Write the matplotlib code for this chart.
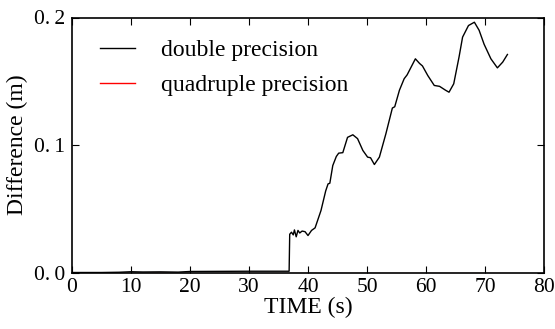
import matplotlib
matplotlib.use("Agg")
import matplotlib.pyplot as plt
import numpy as np

plt.rcParams['font.family'] = ['Liberation Serif', 'DejaVu Serif']
plt.rcParams['mathtext.fontset'] = 'stix'

# double precision difference
t_double = [0, 5, 8, 10, 12, 15, 18, 20, 25, 30, 35, 36.8, 36.9, 37.2, 37.5, 37.7, 38.0, 38.3, 38.6,
            39.0, 39.5, 40.0, 40.6, 41.2, 42.2, 43.0, 43.4, 43.7, 44.2, 44.8, 45.2, 45.9,
            46.7, 47.6, 48.4, 49.3, 50.1, 50.6, 51.25, 52.1, 53.2, 54.3, 54.7, 55.5,
            56.3, 56.8, 58.2, 58.9, 59.4, 60.3, 61.4, 62.3, 63.3, 63.9, 64.7, 65.6,
            66.2, 67.2, 68.2, 69.0, 69.85, 71.0, 72.1, 73.0, 73.8]
d_double = [0.0, 0.0, 0.0002, 0.0006, 0.0004, 0.0005, 0.0003, 0.0008, 0.0009, 0.0010, 0.0010, 0.0010,
            0.030, 0.0316, 0.0295, 0.0334, 0.0280, 0.0330, 0.0310,
            0.0325, 0.0320, 0.0290, 0.0330, 0.0350, 0.0486, 0.0640, 0.0695, 0.0700, 0.0839,
            0.0910, 0.0936, 0.0940, 0.1060, 0.1080, 0.1050, 0.0957, 0.0905, 0.0900,
            0.0847, 0.0905, 0.1088, 0.1290, 0.1300, 0.1430, 0.1520, 0.1550, 0.1676,
            0.1640, 0.1620, 0.1545, 0.1467, 0.1460, 0.1430, 0.1414, 0.1480, 0.1690,
            0.1846, 0.1937, 0.1963, 0.1900, 0.1790, 0.1676, 0.1605, 0.1650, 0.1710]

# quadruple precision difference
t_quad = [0, 10, 20, 30, 37, 40, 50, 60, 70, 74]
d_quad = [0.0, 0.0, 0.0, 0.0, 0.0, 0.0, 0.0, 0.0, 0.0, 0.0]

x_ticks = [0, 10, 20, 30, 40, 50, 60, 70, 80]
y_ticks = [0.0, 0.1, 0.2]
y_ticklabels = ['0.\u20090', '0.\u20091', '0.\u20092']

fig = plt.figure(figsize=(5.55, 3.29), dpi=100)
ax = fig.add_axes([72/555, 1-272.5/329, (544-72)/555, (272.5-17.5)/329])

ax.plot(t_quad, d_quad, color='#c00000', lw=0.8, label='quadruple precision', zorder=1)
ax.plot(t_double, d_double, color='black', lw=1.0, label='double precision', zorder=3)

ax.set_xlim(0, 80)
ax.set_ylim(0, 0.2)
ax.set_xticks(x_ticks)
ax.set_yticks(y_ticks)
ax.set_yticklabels(y_ticklabels)
ax.tick_params(direction='in', top=True, right=True, length=5, width=0.8, labelsize=15.5)
ax.tick_params(axis='x', pad=4)
ax.tick_params(axis='y', pad=5)
for s in ax.spines.values():
    s.set_linewidth(1.2)
    s.set_zorder(2.5)

ax.set_xlabel('TIME (s)', fontsize=17, labelpad=0)
ax.set_ylabel('Difference (m)', fontsize=17, labelpad=4)

h, l = ax.get_legend_handles_labels()
leg = ax.legend(h[::-1], l[::-1], loc='upper left', frameon=False, fontsize=17,
                bbox_to_anchor=(0.0136, 0.996), handlelength=1.5, handletextpad=1.1, labelspacing=0.55)
for line in leg.get_lines():
    line.set_linewidth(1.0)
leg.get_lines()[1].set_color('red')

fig.savefig('out.png', dpi=100)
